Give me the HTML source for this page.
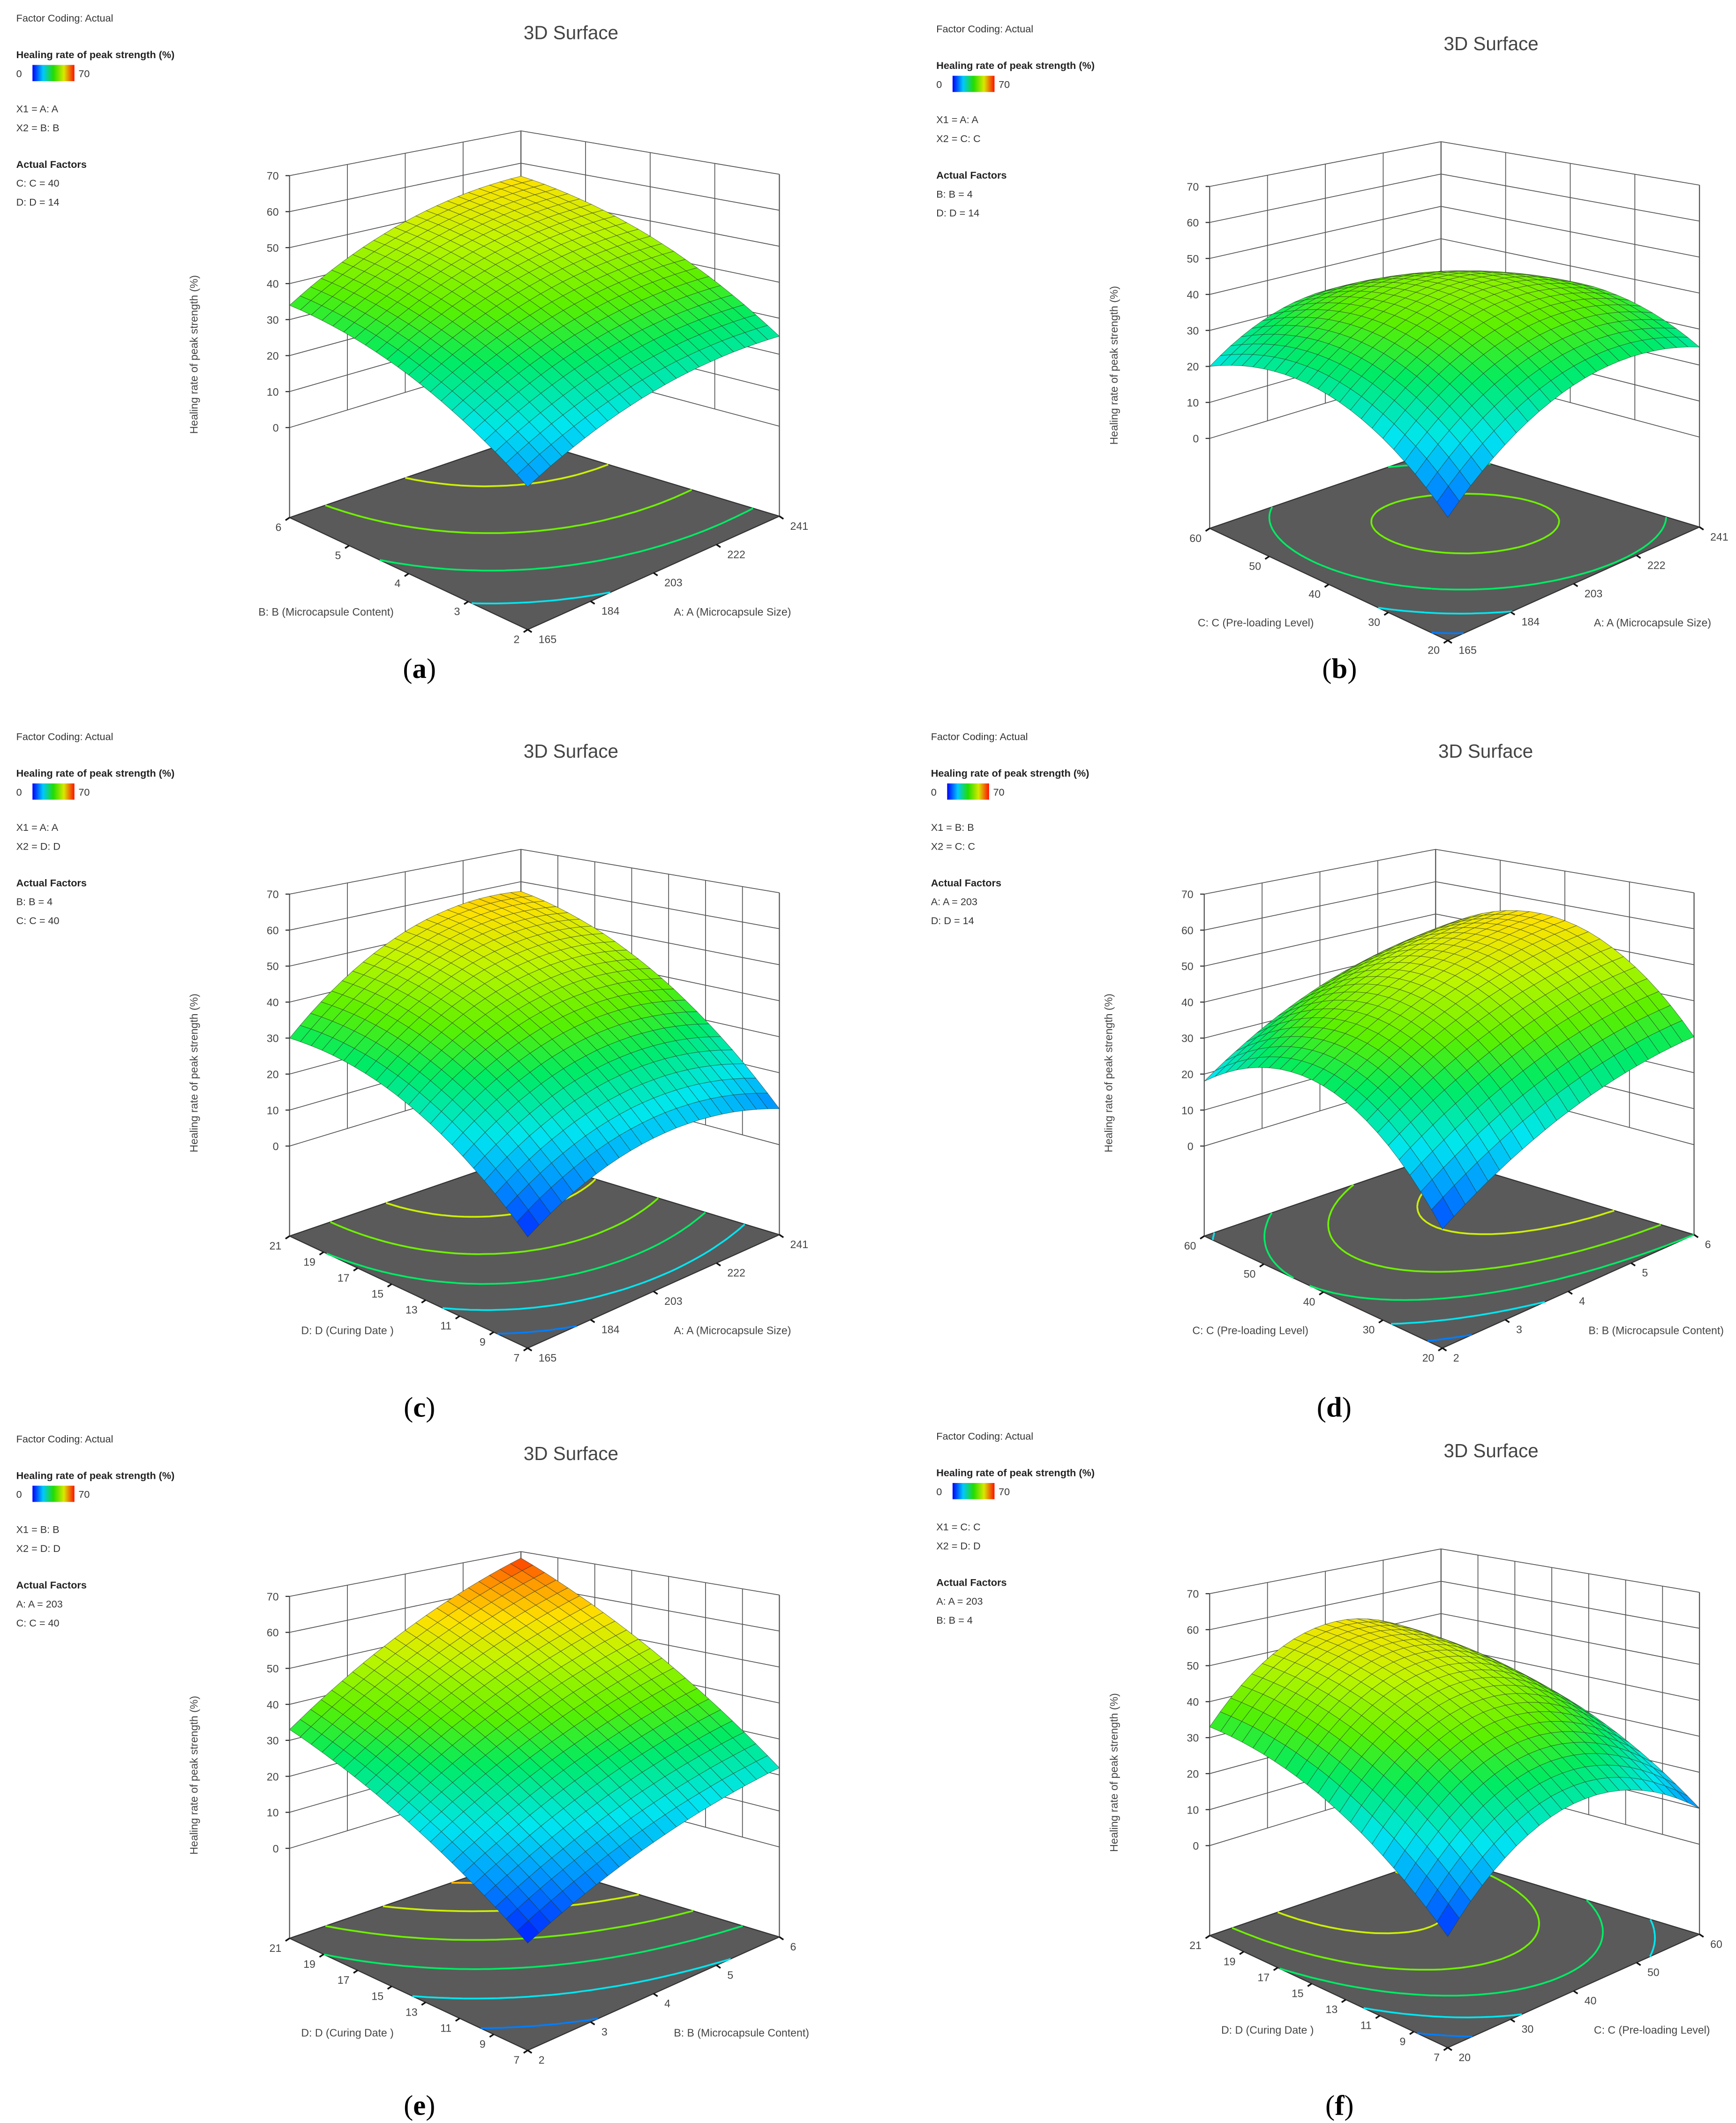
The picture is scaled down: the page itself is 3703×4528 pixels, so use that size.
<!DOCTYPE html>
<html><head><meta charset="utf-8">
<style>
html,body{margin:0;padding:0;background:#fff;}
svg{display:block;font-family:"Liberation Sans",sans-serif;}
</style></head>
<body>
<svg id="fig" width="3703" height="4528" viewBox="0 0 1283 1569" preserveAspectRatio="none" xmlns="http://www.w3.org/2000/svg">
<defs>
<linearGradient id="cbar" x1="0" x2="1" y1="0" y2="0">
<stop offset="0" stop-color="#0000ff"/><stop offset="0.25" stop-color="#00c8ff"/><stop offset="0.5" stop-color="#22dd00"/><stop offset="0.75" stop-color="#d8e800"/><stop offset="1" stop-color="#ff1000"/>
</linearGradient>
</defs>
</svg>
<script>
const panelIds = ['a','b','c','d','e','f'];
const panelOffsetX = [0,680,0,676,0,680];
const panelOffsetY = [0,8,531,531,1050,1048];
// Response values (%) at floor corners: front (x1 low,x2 low), right (x1 high), left (x2 high), back (both high)
const frontValues = [11,6,3,5,2,3];
const rightValues = [25,25,10,30,22,10];
const leftValues = [34,20,30,18,33,33];
const backValues = [56,22,57,45,68,40];
// quadratic curvature (value added at centre of each factor range)
const curvX1 = [5,12,9,5,3,18];
const curvX2 = [5,12,8,18,3,7];
const x1Factor = ['A','A','A','B','B','C'];
const x2Factor = ['B','C','D','C','D','D'];
const actualFactors = [['C: C = 40','D: D = 14'],['B: B = 4','D: D = 14'],['B: B = 4','C: C = 40'],['A: A = 203','D: D = 14'],['A: A = 203','C: C = 40'],['A: A = 203','B: B = 4']];
const factorTicks = {A:['165','184','203','222','241'],B:['2','3','4','5','6'],C:['20','30','40','50','60'],D:['7','9','11','13','15','17','19','21']};
const factorTitles = {A:'A: A (Microcapsule Size)',B:'B: B (Microcapsule Content)',C:'C: C (Pre-loading Level)',D:'D: D (Curing Date )'};
const zTicks = [0,10,20,30,40,50,60,70];
const contourLevels = [10,20,30,40,50,60];

const NS='http://www.w3.org/2000/svg';
const svg=document.getElementById('fig');
function mk(tag,attrs,parent,text){const e=document.createElementNS(NS,tag);for(const k in attrs)e.setAttribute(k,attrs[k]);if(text!==undefined)e.textContent=text;(parent||svg).appendChild(e);return e;}
const CF=[390,392,2.93],CR=[576,315,2.66],CL=[214,316,2.66],CB=[385,264,2.39];
const ZFLOOR=-25;
function colorOf(z){
  const st=[[0,[0,0,255]],[12,[0,150,255]],[20,[0,230,240]],[30,[0,235,100]],[38,[90,240,0]],[48,[190,245,0]],[56,[255,225,0]],[63,[255,150,0]],[70,[255,20,0]]];
  z=Math.max(0,Math.min(70,z));
  for(let i=1;i<st.length;i++){if(z<=st[i][0]){const a=st[i-1],b=st[i],t=(z-a[0])/(b[0]-a[0]);
    return 'rgb('+a[1].map((c,k)=>Math.round(c+(b[1][k]-c)*t)).join(',')+')';}}
  return 'rgb(255,20,0)';
}
panelIds.forEach((id,p)=>{
  const ox=panelOffsetX[p],oy=panelOffsetY[p];
  const g=mk('g',{});
  
  
  function P(u,v,z){
    const w=[(1-u)*(1-v),u*(1-v),(1-u)*v,u*v],C=[CF,CR,CL,CB];
    let x=0,y=0,s=0;for(let i=0;i<4;i++){x+=w[i]*C[i][0];y+=w[i]*C[i][1];s+=w[i]*C[i][2];}
    return [ox+x,oy+y-s*z];
  }
  function f(u,v){
    return frontValues[p]*(1-u)*(1-v)+rightValues[p]*u*(1-v)+leftValues[p]*(1-u)*v+backValues[p]*u*v
      +curvX1[p]*4*u*(1-u)+curvX2[p]*4*v*(1-v);
  }
  const pt=a=>a[0].toFixed(1)+','+a[1].toFixed(1);
  const lg=mk('g',{},g);
  
  
  mk('text',{x:ox+12,y:oy+16,'font-size':7.5,fill:'#333'},lg,'Factor Coding: Actual');
  mk('text',{x:ox+12,y:oy+43,'font-size':7.5,'font-weight':'bold',fill:'#222'},lg,'Healing rate of peak strength  (%)');
  mk('text',{x:ox+12,y:oy+57,'font-size':7.5,fill:'#333'},lg,'0');
  const cb=mk('rect',{x:ox+24,y:oy+48,width:31,height:12,fill:'url(#cbar)'},lg);
  
  
  mk('text',{x:ox+58,y:oy+57,'font-size':7.5,fill:'#333'},lg,'70');
  mk('text',{x:ox+12,y:oy+83,'font-size':7.5,fill:'#333'},lg,'X1 = '+x1Factor[p]+': '+x1Factor[p]);
  mk('text',{x:ox+12,y:oy+97,'font-size':7.5,fill:'#333'},lg,'X2 = '+x2Factor[p]+': '+x2Factor[p]);
  mk('text',{x:ox+12,y:oy+124,'font-size':7.5,'font-weight':'bold',fill:'#222'},lg,'Actual Factors');
  mk('text',{x:ox+12,y:oy+138,'font-size':7.5,fill:'#333'},lg,actualFactors[p][0]);
  mk('text',{x:ox+12,y:oy+152,'font-size':7.5,fill:'#333'},lg,actualFactors[p][1]);
  const tt=mk('text',{x:ox+422,y:oy+29,'font-size':14,fill:'#444','text-anchor':'middle'},g,'3D Surface');
  
  
  const yt=mk('text',{x:0,y:0,'font-size':8,fill:'#444','text-anchor':'middle',transform:'translate('+(ox+146)+','+(oy+262)+') rotate(-90)'},g,'Healing rate of peak strength  (%)');
  
  
  const wall=mk('g',{stroke:'#555','stroke-width':0.6,fill:'none'},g);
  
  
  zTicks.forEach(z=>{
    mk('polyline',{points:pt(P(0,1,z))+' '+pt(P(1,1,z))+' '+pt(P(1,0,z))},wall);
  });
  const nu=factorTicks[x1Factor[p]].length,nv=factorTicks[x2Factor[p]].length;
  for(let i=1;i<nu-1;i++){const u=i/(nu-1);mk('line',{x1:P(u,1,0)[0],y1:P(u,1,0)[1],x2:P(u,1,70)[0],y2:P(u,1,70)[1]},wall);}
  for(let i=1;i<nv-1;i++){const v=i/(nv-1);mk('line',{x1:P(1,v,0)[0],y1:P(1,v,0)[1],x2:P(1,v,70)[0],y2:P(1,v,70)[1]},wall);}
  [[0,1],[1,1],[1,0]].forEach(c=>{const a=P(c[0],c[1],ZFLOOR),b=P(c[0],c[1],70);mk('line',{x1:a[0],y1:a[1],x2:b[0],y2:b[1],'stroke-width':0.8},wall);});
  zTicks.forEach(z=>{const a=P(0,1,z);
    mk('line',{x1:a[0]-3,y1:a[1],x2:a[0],y2:a[1],stroke:'#333','stroke-width':0.8},g);
    mk('text',{x:a[0]-8,y:a[1]+3,'font-size':8,fill:'#444','text-anchor':'end'},g,String(z));});
  const fl=mk('polygon',{points:[P(0,0,ZFLOOR),P(1,0,ZFLOOR),P(1,1,ZFLOOR),P(0,1,ZFLOOR)].map(pt).join(' '),fill:'#5a5a5a',stroke:'#333','stroke-width':0.8},g);
  
  
  const N=40;
  contourLevels.forEach(L=>{
    let d='';
    for(let i=0;i<N;i++)for(let j=0;j<N;j++){
      const u0=i/N,u1=(i+1)/N,v0=j/N,v1=(j+1)/N;
      const cs=[[u0,v0],[u1,v0],[u1,v1],[u0,v1]],vals=cs.map(c=>f(c[0],c[1]));
      const pts=[];
      for(let k=0;k<4;k++){const a=vals[k],b=vals[(k+1)%4];
        if((a<L)!==(b<L)){const t=(L-a)/(b-a),c0=cs[k],c1=cs[(k+1)%4];pts.push([c0[0]+(c1[0]-c0[0])*t,c0[1]+(c1[1]-c0[1])*t]);}}
      for(let k=0;k+1<pts.length;k+=2){d+='M'+pt(P(pts[k][0],pts[k][1],ZFLOOR))+'L'+pt(P(pts[k+1][0],pts[k+1][1],ZFLOOR));}
    }
    if(d){const c=mk('path',{d:d,stroke:colorOf(L),'stroke-width':1.3,fill:'none'},g);
      
      }
  });
  const tu=factorTicks[x1Factor[p]],tv=factorTicks[x2Factor[p]];
  tu.forEach((t,i)=>{const u=i/(tu.length-1),a=P(u,0,ZFLOOR);
    mk('line',{x1:a[0],y1:a[1],x2:a[0]+3,y2:a[1]+2,stroke:'#111','stroke-width':1.2},g);
    mk('text',{x:a[0]+8,y:a[1]+10,'font-size':8,fill:'#444'},g,t);});
  tv.forEach((t,i)=>{const v=i/(tv.length-1),a=P(0,v,ZFLOOR);
    mk('line',{x1:a[0],y1:a[1],x2:a[0]-3,y2:a[1]+2,stroke:'#111','stroke-width':1.2},g);
    mk('text',{x:a[0]-6,y:a[1]+10,'font-size':8,fill:'#444','text-anchor':'end'},g,t);});
  const ta=mk('text',{x:ox+498,y:oy+455,'font-size':8,fill:'#444'},g,factorTitles[x1Factor[p]]);
  
  
  const tb=mk('text',{x:ox+291,y:oy+455,'font-size':8,fill:'#444','text-anchor':'end'},g,factorTitles[x2Factor[p]]);
  
  
  const sg=mk('g',{stroke:'#2a3a2a','stroke-width':0.35,'stroke-opacity':0.65},g);
  
  
  const M=22,quads=[];
  for(let i=0;i<M;i++)for(let j=0;j<M;j++)quads.push([i,j]);
  quads.sort((a,b)=>(b[0]+b[1])-(a[0]+a[1]));
  quads.forEach(q=>{
    const u0=q[0]/M,u1=(q[0]+1)/M,v0=q[1]/M,v1=(q[1]+1)/M;
    const cs=[[u0,v0],[u1,v0],[u1,v1],[u0,v1]];
    const zs=cs.map(c=>f(c[0],c[1]));
    const avg=(zs[0]+zs[1]+zs[2]+zs[3])/4;
    mk('polygon',{points:cs.map((c,k)=>pt(P(c[0],c[1],zs[k]))).join(' '),fill:colorOf(avg)},sg);
  });
  const cap=mk('text',{x:ox+310,y:(p<2?501:p<4?1047:1563),'font-size':21,fill:'#000','text-anchor':'middle','font-family':'Liberation Serif, serif'},svg);
  cap.innerHTML='(<tspan font-weight="bold">'+id+'</tspan>)';
  
  
});
</script>
</body></html>
